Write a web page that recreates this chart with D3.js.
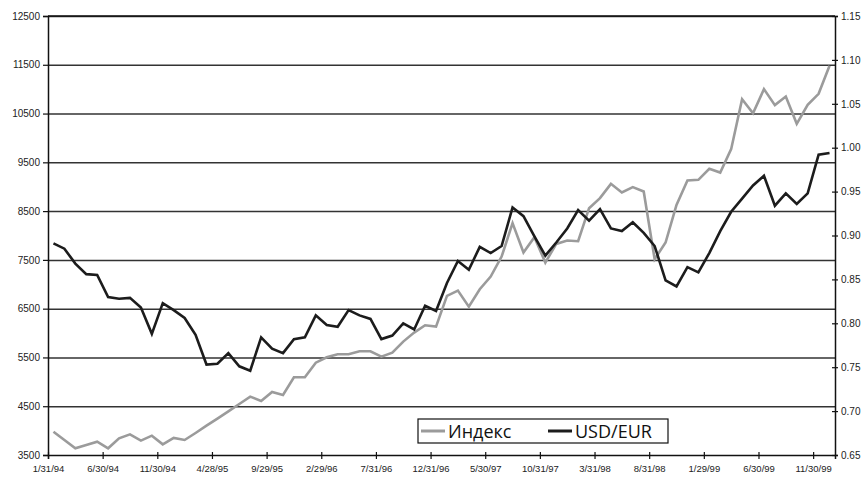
<!DOCTYPE html>
<html>
<head>
<meta charset="utf-8">
<script src="https://cdn.jsdelivr.net/npm/d3@7"></script>
<style>
  body { margin: 0; background: #fff; }
  .tick text { font-family: "Liberation Sans", Arial, sans-serif; fill: #222; }
</style>
</head>
<body>
<svg id="chart" width="868" height="477"></svg>
<script>
// monthly values, Jan 1994 .. Dec 1999
const indexValues = [3978, 3808, 3637, 3705, 3773, 3637, 3842, 3924, 3794, 3896, 3719, 3849,
  3808, 3951, 4101, 4247, 4396, 4546, 4696, 4608, 4792, 4731, 5094, 5094,
  5393, 5504, 5565, 5565, 5627, 5627, 5517, 5599, 5825, 6009, 6160, 6133,
  6762, 6870, 6542, 6899, 7158, 7568, 8253, 7650, 7966, 7445, 7828, 7896,
  7883, 8560, 8766, 9059, 8881, 8991, 8901, 7514, 7855, 8628, 9127, 9141,
  9367, 9291, 9770, 10794, 10507, 11001, 10673, 10850, 10290, 10679, 10905, 11479]

const usdEur = [0.891, 0.885, 0.868, 0.856, 0.855, 0.830, 0.828, 0.829, 0.818, 0.788, 0.823, 0.815,
  0.806, 0.787, 0.753, 0.754, 0.766, 0.751, 0.746, 0.784, 0.771, 0.766, 0.782, 0.784,
  0.809, 0.798, 0.796, 0.815, 0.809, 0.805, 0.782, 0.786, 0.800, 0.793, 0.820, 0.814,
  0.846, 0.871, 0.861, 0.887, 0.880, 0.888, 0.932, 0.922, 0.899, 0.877, 0.892, 0.908,
  0.929, 0.917, 0.930, 0.908, 0.905, 0.915, 0.903, 0.888, 0.849, 0.842, 0.864, 0.858,
  0.880, 0.905, 0.927, 0.942, 0.957, 0.968, 0.934, 0.948, 0.936, 0.948, 0.992, 0.994]

const tickLabels = ['1/31/94', '6/30/94', '11/30/94', '4/28/95', '9/29/95', '2/29/96', '7/31/96',
  '12/31/96', '5/30/97', '10/31/97', '3/31/98', '8/31/98', '1/29/99', '6/30/99', '11/30/99']

const leftTicks = [3500, 4500, 5500, 6500, 7500, 8500, 9500, 10500, 11500, 12500]
const rightTicks = [0.65, 0.70, 0.75, 0.80, 0.85, 0.90, 0.95, 1.00, 1.05, 1.10, 1.15]

const seriesNames = ['Индекс', 'USD/EUR']
const seriesColors = ['#9b9b9b', '#1c1c1c']

const svg = d3.select('#chart')

const plotLeft = 48, plotRight = 835, plotTop = 16, plotBottom = 455

// x is a month index; each month takes one slot, points sit in the middle of it
const x = d3.scaleLinear().domain([0, indexValues.length]).range([plotLeft, plotRight])
const yLeft = d3.scaleLinear().domain([3500, 12500]).range([plotBottom, plotTop])
const yRight = d3.scaleLinear().domain([0.65, 1.15]).range([plotBottom, plotTop])

// horizontal grid
svg.append('g')
  .attr('transform', `translate(${plotLeft},0)`)
  .call(d3.axisLeft(yLeft)
    .tickValues(leftTicks.slice(1))
    .tickSize(-(plotRight - plotLeft))
    .tickFormat(''))
  .call(g => g.select('.domain').remove())
  .selectAll('line')
  .attr('stroke', '#333')
  .attr('stroke-width', 1.5)

// left axis
const yAxisLeft = svg.append('g')
  .attr('transform', `translate(${plotLeft},0)`)
  .call(d3.axisLeft(yLeft).tickValues(leftTicks).tickSize(5).tickPadding(3).tickFormat(d3.format('d')))
yAxisLeft.select('.domain').attr('stroke', '#111').attr('stroke-width', 1.5)
yAxisLeft.selectAll('line').attr('stroke', '#111').attr('stroke-width', 1.2)
yAxisLeft.selectAll('text').attr('font-size', 10)

// right axis
const yAxisRight = svg.append('g')
  .attr('transform', `translate(${plotRight},0)`)
  .call(d3.axisRight(yRight).tickValues(rightTicks).tickSize(3).tickPadding(3).tickFormat(d3.format('.2f')))
yAxisRight.select('.domain').attr('stroke', '#111').attr('stroke-width', 1.5)
yAxisRight.selectAll('line').attr('x1', -3).attr('stroke', '#111').attr('stroke-width', 1.2)
yAxisRight.selectAll('text').attr('font-size', 10)

// bottom axis: ticks every 5 months, on the slot boundaries
const xAxis = svg.append('g')
  .attr('transform', `translate(0,${plotBottom})`)
  .call(d3.axisBottom(x)
    .tickValues(tickLabels.map((d, i) => i * 5))
    .tickSize(4)
    .tickPadding(6)
    .tickFormat((d, i) => tickLabels[i]))
xAxis.select('.domain').attr('stroke', '#111').attr('stroke-width', 1.5)
xAxis.selectAll('line').attr('y1', -3).attr('stroke', '#111').attr('stroke-width', 1.2)
xAxis.selectAll('text').attr('font-size', 9.5)

// top border of the plot
svg.append('line')
  .attr('x1', plotLeft).attr('x2', plotRight)
  .attr('y1', yLeft(12500)).attr('y2', yLeft(12500))
  .attr('stroke', '#111')
  .attr('stroke-width', 1.5)

// lines
const lineIndex = d3.line()
  .x((d, i) => x(i + 0.5))
  .y(d => yLeft(d))

const lineUsd = d3.line()
  .x((d, i) => x(i + 0.5))
  .y(d => yRight(d))

svg.append('path')
  .datum(indexValues)
  .attr('fill', 'none')
  .attr('stroke', seriesColors[0])
  .attr('stroke-width', 2.6)
  .attr('d', lineIndex)

svg.append('path')
  .datum(usdEur)
  .attr('fill', 'none')
  .attr('stroke', seriesColors[1])
  .attr('stroke-width', 2.6)
  .attr('d', lineUsd)

// legend
const legend = svg.append('g').attr('transform', 'translate(418,419)')
legend.append('rect')
  .attr('width', 250)
  .attr('height', 24)
  .attr('fill', '#fff')
  .attr('stroke', '#111')
  .attr('stroke-width', 1.2)

const legendOffsets = [3, 130]
seriesNames.forEach((name, i) => {
  const item = legend.append('g').attr('transform', `translate(${legendOffsets[i]},0)`)
  item.append('line')
    .attr('x1', 0).attr('x2', 24)
    .attr('y1', 12).attr('y2', 12)
    .attr('stroke', seriesColors[i])
    .attr('stroke-width', 3)
  item.append('text')
    .attr('x', 27)
    .attr('y', 18.5)
    .attr('font-family', '"Open Sans", sans-serif')
    .attr('font-size', 18)
    .attr('fill', '#111')
    .text(name)
})
</script>
</body>
</html>
